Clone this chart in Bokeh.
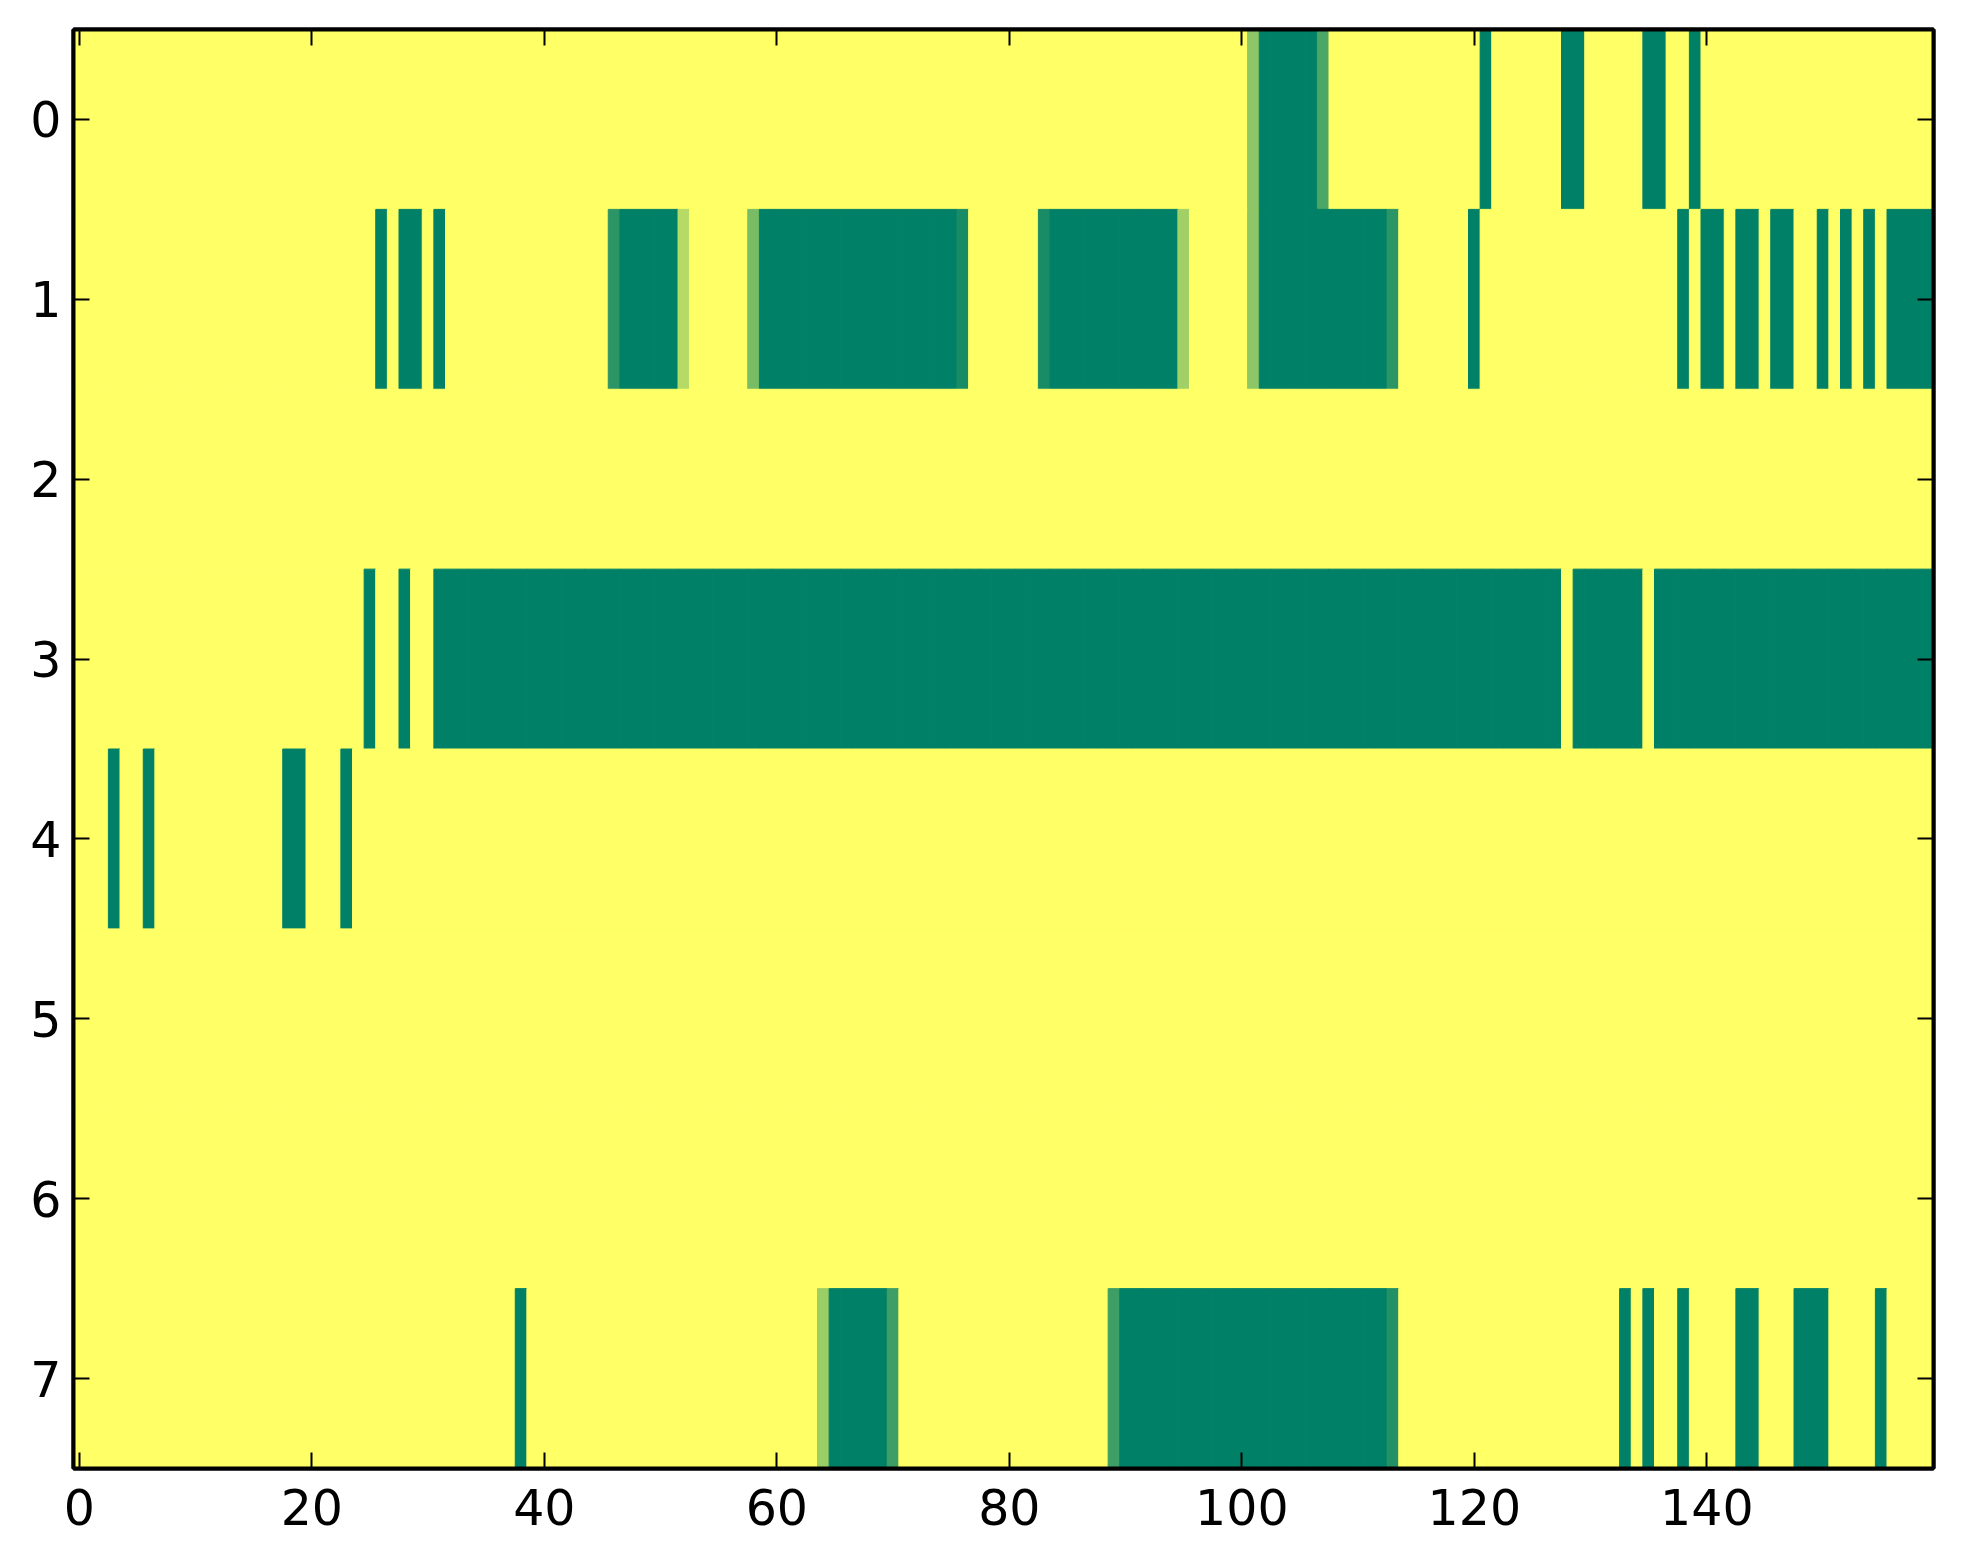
import numpy as np
from bokeh.plotting import figure
from bokeh.models import ColumnDataSource, Range1d, FixedTicker, LinearAxis
from bokeh.transform import linear_cmap
from bokeh.embed import file_html
from bokeh.resources import INLINE

n_rows = 8
n_cols = 160

# runs of (first column, last column, value) per row; all other cells are 0
row0 = [(101, 101, 0.45), (102, 106, 1.0), (107, 107, 0.70), (121, 121, 1.0),
        (128, 129, 1.0), (135, 136, 1.0), (139, 139, 1.0)]
row1 = [(26, 26, 1.0), (28, 29, 1.0), (31, 31, 1.0), (46, 46, 0.83), (47, 51, 1.0),
        (52, 52, 0.29), (58, 58, 0.53), (59, 75, 1.0), (76, 76, 0.90), (83, 83, 0.90),
        (84, 94, 1.0), (95, 95, 0.37), (101, 101, 0.45), (102, 112, 1.0), (113, 113, 0.83),
        (120, 120, 1.0), (138, 138, 1.0), (140, 141, 1.0), (143, 144, 1.0), (146, 147, 1.0),
        (150, 150, 1.0), (152, 152, 1.0), (154, 154, 1.0), (156, 159, 1.0)]
row2 = []
row3 = [(25, 25, 1.0), (28, 28, 1.0), (31, 127, 1.0), (129, 134, 1.0), (136, 159, 1.0)]
row4 = [(3, 3, 1.0), (6, 6, 1.0), (18, 19, 1.0), (23, 23, 1.0)]
row5 = []
row6 = []
row7 = [(38, 38, 1.0), (64, 64, 0.39), (65, 69, 1.0), (70, 70, 0.76), (89, 89, 0.76),
        (90, 112, 1.0), (113, 113, 0.86), (133, 133, 1.0), (135, 135, 1.0), (138, 138, 1.0),
        (143, 144, 1.0), (148, 150, 1.0), (155, 155, 1.0)]

x_ticks = [0, 20, 40, 60, 80, 100, 120, 140]
y_ticks = [0, 1, 2, 3, 4, 5, 6, 7]

rows = [row0, row1, row2, row3, row4, row5, row6, row7]
M = np.zeros((n_rows, n_cols))
for r, runs in enumerate(rows):
    for a, b, v in runs:
        M[r, a:b + 1] = v

# summer_r colormap palette
palette = []
for k in range(256):
    v = k / 255.0
    rr, gg, bb = 1.0 - v, 1.0 - v / 2.0, 0.4
    palette.append("#%02x%02x%02x" % (int(round(rr * 255)), int(round(gg * 255)), int(round(bb * 255))))

rr_idx, cc_idx = np.meshgrid(np.arange(n_rows), np.arange(n_cols), indexing="ij")
src = ColumnDataSource(dict(
    left=(cc_idx.ravel() - 0.5), right=(cc_idx.ravel() + 0.5),
    top=(rr_idx.ravel() - 0.5), bottom=(rr_idx.ravel() + 0.5),
    val=M.ravel(),
))

p = figure(frame_width=1860, frame_height=1439,
           x_range=Range1d(-0.5, n_cols - 0.5), y_range=Range1d(n_rows - 0.5, -0.5),
           output_backend="svg", toolbar_location=None,
           min_border_left=73, min_border_right=22, min_border_top=29, min_border_bottom=80)
p.background_fill_color = "white"
p.border_fill_color = "white"
p.grid.visible = False

cmap = linear_cmap("val", palette, 0, 1)
p.quad(left="left", right="right", top="top", bottom="bottom", source=src,
       fill_color=cmap, line_color=cmap, line_width=1)

p.outline_line_color = "black"
p.outline_line_width = 4

def style(ax, ticks, show_labels):
    ax.ticker = FixedTicker(ticks=ticks)
    ax.axis_line_color = "black"
    ax.axis_line_width = 4
    ax.major_tick_in = 16
    ax.major_tick_out = 0
    ax.major_tick_line_width = 2
    ax.major_tick_line_color = "black"
    ax.minor_tick_line_color = None
    ax.major_label_text_font = "DejaVu Sans"
    ax.major_label_text_font_size = "49px"
    ax.major_label_text_color = "black"
    if not show_labels:
        ax.major_label_text_alpha = 0
        ax.major_label_text_font_size = "1px"

style(p.xaxis[0], x_ticks, True)
p.xaxis[0].major_label_standoff = 20
style(p.yaxis[0], y_ticks, True)
p.yaxis[0].major_label_standoff = 12

top_ax = LinearAxis()
style(top_ax, x_ticks, False)
p.add_layout(top_ax, "above")
right_ax = LinearAxis()
style(right_ax, y_ticks, False)
p.add_layout(right_ax, "right")

open("out.html", "w").write(file_html(p, INLINE))
